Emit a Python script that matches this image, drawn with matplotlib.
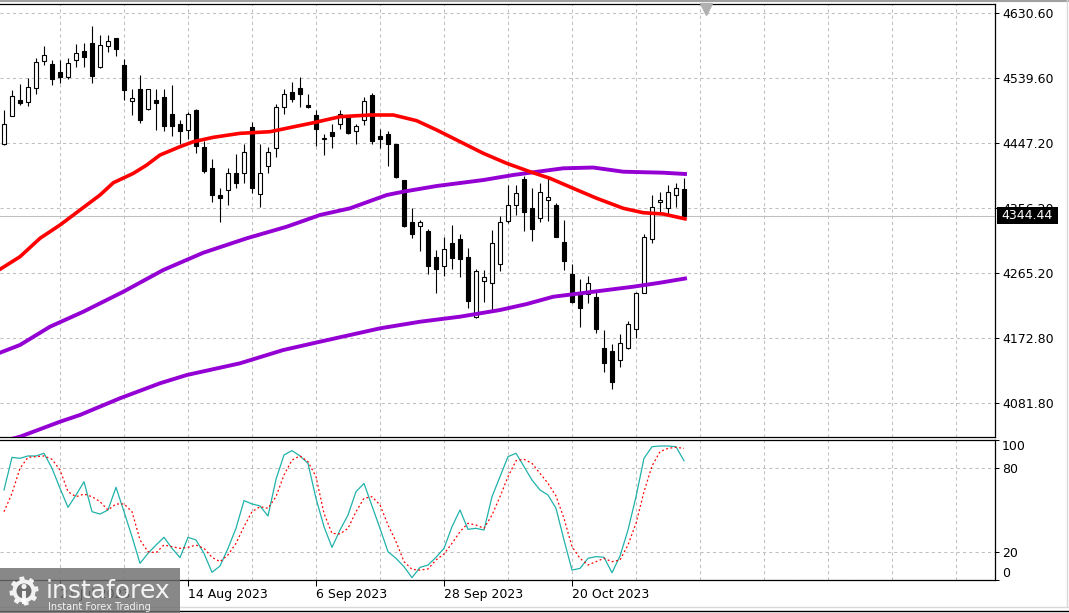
import numpy as np
import matplotlib
matplotlib.use("Agg")
import matplotlib.pyplot as plt
from matplotlib.patches import Rectangle, Polygon, Circle
from matplotlib.lines import Line2D
import matplotlib.transforms as mtransforms

# daily candles, 12 Jul 2023 .. 9 Nov 2023 (bar index 0..85)
opens = [4447, 4486, 4508, 4506, 4525, 4563, 4559, 4548, 4540, 4565,
         4577, 4588, 4555, 4584, 4595, 4557, 4507, 4523, 4496, 4508,
         4512, 4488, 4475, 4466, 4494, 4442, 4413, 4375, 4382, 4405,
         4405, 4470, 4376, 4415, 4440, 4499, 4519, 4525, 4501, 4487,
         4454, 4463, 4474, 4484, 4464, 4480, 4515, 4458, 4460, 4446,
         4395, 4336, 4331, 4324, 4287, 4274, 4307, 4312, 4287, 4203,
         4253, 4251, 4278, 4338, 4360, 4397, 4356, 4342, 4368, 4361,
         4308, 4264, 4235, 4235, 4231, 4159, 4155, 4143, 4159, 4186,
         4237, 4312, 4364, 4356, 4375, 4383]
highs = [4494, 4522, 4531, 4539, 4568, 4584, 4564, 4564, 4568, 4587,
         4588, 4612, 4600, 4600, 4596, 4566, 4523, 4543, 4524, 4523,
         4523, 4529, 4480, 4492, 4496, 4450, 4425, 4384, 4412, 4432,
         4447, 4477, 4446, 4442, 4503, 4523, 4534, 4540, 4516, 4494,
         4461, 4474, 4494, 4487, 4475, 4513, 4518, 4468, 4464, 4447,
         4396, 4356, 4339, 4326, 4297, 4315, 4332, 4320, 4300, 4271,
         4269, 4325, 4345, 4389, 4389, 4401, 4384, 4391, 4398, 4363,
         4340, 4278, 4256, 4260, 4238, 4185, 4165, 4179, 4197, 4238,
         4320, 4375, 4379, 4389, 4392, 4398]
lows = [4445, 4485, 4501, 4500, 4517, 4557, 4529, 4532, 4538, 4555,
        4555, 4532, 4553, 4576, 4570, 4508, 4487, 4476, 4494, 4466,
        4465, 4458, 4447, 4454, 4433, 4406, 4365, 4337, 4361, 4385,
        4391, 4377, 4358, 4405, 4428, 4489, 4506, 4499, 4497, 4443,
        4431, 4440, 4468, 4461, 4447, 4473, 4446, 4440, 4416, 4398,
        4330, 4314, 4296, 4264, 4236, 4260, 4271, 4259, 4215, 4202,
        4224, 4213, 4268, 4335, 4346, 4324, 4310, 4337, 4338, 4315,
        4269, 4222, 4189, 4222, 4181, 4126, 4102, 4133, 4158, 4173,
        4236, 4307, 4351, 4346, 4358, 4342]
closes = [4475, 4514, 4504, 4526, 4561, 4572, 4538, 4541, 4560, 4575,
          4569, 4542, 4585, 4591, 4580, 4522, 4511, 4480, 4523, 4504,
          4471, 4471, 4464, 4489, 4444, 4409, 4374, 4371, 4405, 4392,
          4435, 4384, 4406, 4435, 4498, 4516, 4510, 4516, 4499, 4467,
          4455, 4457, 4488, 4462, 4471, 4507, 4451, 4453, 4446, 4400,
          4331, 4319, 4336, 4274, 4271, 4298, 4286, 4285, 4226, 4267,
          4259, 4307, 4336, 4360, 4378, 4350, 4326, 4379, 4372, 4316,
          4281, 4224, 4215, 4251, 4186, 4138, 4112, 4166, 4193, 4237,
          4316, 4357, 4367, 4379, 4384, 4344.44]
last_price = 4344.44

# moving averages (bar position, value)
ma_red_x = [-0.5, 2, 4.5, 7, 9.5, 12, 13.67, 16.17, 17.84, 19.5, 22, 23.67,
            26.17, 29.5, 33.25, 38.67, 42, 45.75, 48.67, 51.58, 54.09, 56.59,
            59.91, 62.84, 65.75, 68.25, 71.16, 74.09, 77.41, 79.91, 82.41, 85.13]
ma_red_y = [4270.0, 4287.7, 4313.6, 4332.3, 4353.4, 4374.5, 4391.8, 4405.0,
            4416.7, 4430.8, 4442.5, 4449.5, 4455.7, 4461.3, 4463.6, 4476.2,
            4484.7, 4487.1, 4487.1, 4479.1, 4466.0, 4451.9, 4433.2, 4419.1,
            4407.3, 4398.0, 4383.9, 4369.9, 4355.8, 4349.6, 4347.8, 4341.0]
ma_mid_x = [-0.5, 2, 5.75, 9.91, 14.91, 19.91, 24.91, 30.34, 35.34, 39.5,
            43.25, 47.84, 49.91, 54.09, 59.91, 63.66, 65.75, 69.91, 73.66,
            77.41, 82.41, 85.13]
ma_mid_y = [4152.6, 4163.5, 4189.2, 4210.3, 4238.4, 4269.0, 4293.3, 4313.6,
            4329.9, 4346.4, 4355.8, 4374.5, 4379.2, 4387.2, 4395.6, 4402.7,
            4405.9, 4412.1, 4413.2, 4407.3, 4405.9, 4404.1]
ma_low_x = [-0.5, 2, 7, 9.5, 14.5, 19.5, 22.84, 29.5, 34.91, 39.5, 43.25, 47,
            52, 57, 62, 65.34, 68.66, 73.66, 78.66, 82, 85.13]
ma_low_y = [4027.0, 4034.4, 4055.5, 4065.0, 4088.5, 4109.6, 4121.2, 4137.7,
            4156.4, 4168.1, 4177.5, 4186.9, 4196.2, 4203.3, 4212.7, 4221.1,
            4231.4, 4238.4, 4245.5, 4251.1, 4257.0]

# stochastic oscillator
stoch_k = [64.3, 87.6, 86.9, 88.6, 88.6, 90.5, 79.8, 65.5, 51.9, 60.7,
           70.2, 48.8, 47.1, 50.0, 66.2, 48.8, 31.0, 11.9, 19.0, 25.0,
           30.5, 22.6, 16.0, 30.5, 28.6, 19.0, 5.5, 10.0, 22.6, 36.9,
           56.7, 54.3, 52.9, 45.7, 71.9, 89.3, 92.4, 88.6, 83.3, 58.3,
           38.1, 23.3, 35.7, 46.4, 63.1, 69.0, 52.9, 36.9, 20.2, 15.5,
           9.5, 1.7, 9.0, 10.7, 16.2, 22.6, 38.1, 50.0, 36.2, 36.9,
           35.7, 59.5, 73.8, 88.1, 90.5, 81.0, 71.4, 64.3, 60.7, 51.2,
           28.6, 7.1, 8.3, 15.5, 16.7, 16.2, 5.2, 17.1, 35.7, 59.5,
           86.9, 95.2, 95.7, 95.7, 95.2, 85.2]
stoch_d = [48.8, 61.9, 79.8, 87.6, 88.1, 88.6, 86.2, 78.6, 63.1, 59.5,
           61.4, 59.5, 56.0, 50.0, 54.3, 54.3, 48.8, 28.6, 20.2, 19.5,
           25.0, 23.8, 22.6, 23.3, 25.0, 22.6, 16.2, 13.1, 17.9, 26.2,
           38.1, 48.8, 52.4, 51.2, 59.5, 75.0, 85.7, 88.6, 84.5, 73.8,
           47.6, 33.3, 32.9, 36.9, 48.8, 58.3, 59.5, 53.6, 39.3, 27.4,
           13.1, 7.6, 7.1, 7.9, 14.3, 18.6, 26.2, 34.5, 40.5, 39.3,
           36.9, 46.4, 59.5, 73.8, 85.2, 86.2, 83.3, 76.2, 69.0, 60.0,
           44.0, 23.8, 15.5, 10.7, 13.1, 15.5, 13.1, 14.3, 25.0, 40.5,
           63.1, 81.4, 91.7, 94.0, 94.8, 94.0]

price_levels = [4630.60, 4539.60, 4447.20, 4356.20, 4265.20, 4172.80, 4081.80]
date_pos = [7, 23, 39, 55, 71]
date_labels = ["21 Jul 2023", "14 Aug 2023", "6 Sep 2023", "28 Sep 2023", "20 Oct 2023"]

W, H = 1069, 613
fig = plt.figure(figsize=(W / 100, H / 100), dpi=100)
fig.patch.set_facecolor("white")


def fx(px):
    return px / W


def fy(py):
    return 1 - py / H


ax = fig.add_axes([0, fy(437), fx(995), fy(4) - fy(437)])
ax2 = fig.add_axes([0, fy(580), fx(995), fy(440) - fy(580)])

grid_kw = dict(color="#c0c0c0", linestyle=(0, (3, 3)), linewidth=0.75)
gridx = np.arange(7, 124, 8)

# main price panel
bars = np.arange(len(closes))
o = np.array(opens, float)
c = np.array(closes, float)
up = c >= o
ax.axhline(last_price, color="#c0c0c0", lw=0.75, zorder=1)
ax.vlines(bars, lows, highs, color="black", lw=0.8, zorder=2)
ax.bar(bars, np.maximum(np.abs(c - o), 1.2), bottom=np.minimum(o, c), width=0.62,
       color=np.where(up, "white", "black"), edgecolor="black", linewidth=0.8, zorder=3)
ax.plot(ma_low_x, ma_low_y, color="#9400d3", lw=2.8, zorder=4, solid_joinstyle="round")
ax.plot(ma_mid_x, ma_mid_y, color="#9400d3", lw=2.8, zorder=4, solid_joinstyle="round")
ax.plot(ma_red_x, ma_red_y, color="#ff0000", lw=2.6, zorder=5, solid_joinstyle="round")

ax.set_xlim(-0.5, 123.875)
ax.set_ylim(4034.0, 4643.3)
ax.set_xticks([])
ax.set_xticks(gridx, minor=True)
ax.tick_params(axis="x", which="both", length=0, labelbottom=False)
ax.yaxis.tick_right()
ax.set_yticks(price_levels, [f"{v:.2f}" for v in price_levels])
ax.tick_params(axis="y", labelsize=9, length=3, width=0.75, pad=2, colors="black")
ax.grid(True, which="both", **grid_kw)
ax.set_axisbelow(True)

# shift marker at the top
trans = mtransforms.blended_transform_factory(ax.transData, ax.transAxes)
ax.plot([87.75], [0.988], marker="v", color="#b0b0b0", markersize=8,
        transform=trans, clip_on=False, zorder=6)

# stochastic panel
ax2.plot(bars, stoch_k, color="#20b2aa", lw=0.9, zorder=3)
ax2.plot(bars, stoch_d, color="#ff0000", lw=0.9, ls=(0, (1.5, 2)), zorder=3)
ax2.set_xlim(-0.5, 123.875)
ax2.set_ylim(0, 100)
ax2.set_xticks(date_pos, date_labels, ha="left")
ax2.set_xticks(gridx, minor=True)
ax2.tick_params(axis="x", which="major", length=4, width=0.75, labelsize=9, pad=2)
ax2.tick_params(axis="x", which="minor", length=0)
ax2.yaxis.tick_right()
ax2.set_yticks([0, 20, 80, 100], ["0", "20", "80", "100"])
ax2.tick_params(axis="y", labelsize=9, length=3, width=0.75, pad=2)
ax2.grid(True, which="both", **grid_kw)
ax2.set_axisbelow(True)
yt = ax2.yaxis.get_major_ticks()
yt[0].label2.set_va("bottom")
yt[3].label2.set_va("top")

for a in (ax, ax2):
    a.set_facecolor("white")
    a.spines["left"].set_visible(False)
    for s in ("top", "right", "bottom"):
        a.spines[s].set_linewidth(0.9)
        a.spines[s].set_color("black")

# current price tag
fig.add_artist(Rectangle((fx(997), fy(223.5)), fx(61), fy(207) - fy(223.5),
                         transform=fig.transFigure, facecolor="black",
                         edgecolor="none", zorder=10))
fig.text(fx(1001), fy(215.5), f"{last_price:.2f}", color="white", fontsize=9,
         va="center", ha="left", zorder=11)

# frame lines
fig.add_artist(Line2D([0, 1], [fy(0.8), fy(0.8)], transform=fig.transFigure,
                      color="#a0a0a0", lw=1.5))
fig.add_artist(Line2D([fx(1066.5), fx(1066.5)], [fy(0), fy(607)],
                      transform=fig.transFigure, color="#d8d8d8", lw=1))
fig.add_artist(Line2D([0, 1], [fy(607), fy(607)], transform=fig.transFigure,
                      color="#d8d8d8", lw=1))
fig.add_artist(Line2D([0, 1], [fy(610.5), fy(610.5)], transform=fig.transFigure,
                      color="black", lw=1))

# watermark logo
lax = fig.add_axes([0, 0, fx(180), 45 / H])
lax.set_zorder(20)
lax.set_xlim(0, 180)
lax.set_ylim(0, 45)
lax.axis("off")
lax.add_patch(Rectangle((0, 0), 180, 45, facecolor="#6e6e6e", alpha=0.82,
                        edgecolor="none"))
ang = np.linspace(0, 2 * np.pi, 97)
rad = np.where((np.arange(97) // 6) % 2 == 0, 14.5, 11.5)
gear = np.column_stack([24 + rad * np.cos(ang), 22 + rad * np.sin(ang)])
lax.add_patch(Polygon(gear, closed=True, facecolor="white", edgecolor="none", alpha=0.9))
lax.add_patch(Circle((24, 22), 7.5, facecolor="#6e6e6e", edgecolor="none"))
lax.add_patch(Rectangle((21.8, 9), 4.4, 13, facecolor="white", edgecolor="none", alpha=0.9))
lax.add_patch(Circle((24, 26.5), 2.6, facecolor="white", edgecolor="none", alpha=0.9))
lax.text(46, 22, "instaforex", color="white", fontsize=18, va="center", ha="left",
         alpha=0.9)
lax.text(48, 6, "Instant Forex Trading", color="white", fontsize=7, va="center",
         ha="left", alpha=0.9)

fig.savefig("out.png", dpi=100, facecolor="white")
